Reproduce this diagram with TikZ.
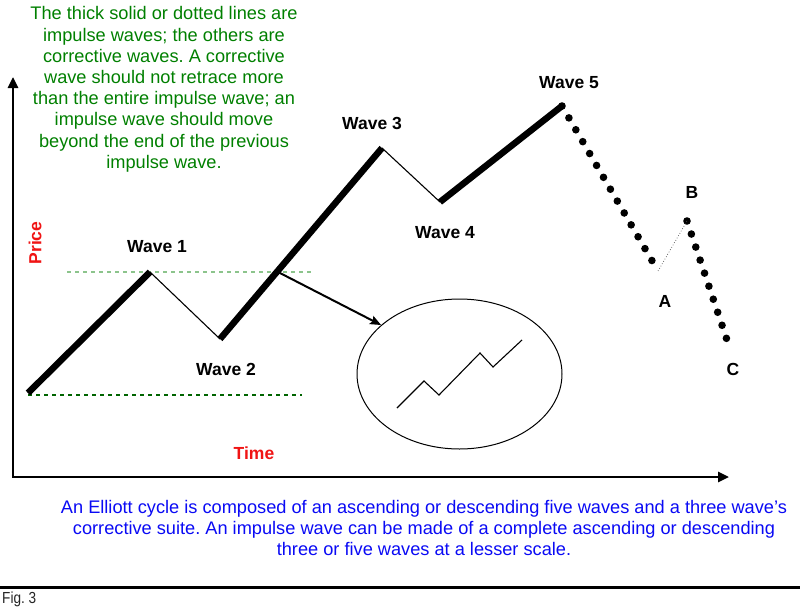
\documentclass[tikz,border=0pt]{standalone}
\usepackage{fontspec}
\setmainfont{Liberation Sans}
\newfontfamily\narrowfont[FakeStretch=0.85]{Liberation Sans}
\usetikzlibrary{arrows.meta,shapes.geometric}
\definecolor{txtgreen}{RGB}{0,128,0}
\definecolor{txtblue}{RGB}{10,10,245}
\definecolor{lightdash}{RGB}{140,196,140}
\definecolor{darkdash}{RGB}{0,100,0}
\definecolor{txtred}{RGB}{240,20,20}
\frenchspacing
\tikzset{
  impulse/.style={line width=6.5pt},
  corrective/.style={line width=1.1pt},
  dotwave/.style={line width=7.6pt, line cap=round, dash pattern=on 0pt off 13.75pt},
  wavelabel/.style={font=\fontsize{17.5}{20}\selectfont\bfseries, inner sep=0pt},
  axislabel/.style={font=\fontsize{17.5}{20}\selectfont\bfseries, text=txtred, inner sep=0pt},
  axis/.style={line width=2.6pt, {Triangle[length=11pt,width=10pt]}-{Triangle[length=11pt,width=10pt]}},
  guide/.style={line width=1.2pt, dash pattern=on 4pt off 4pt},
}
\begin{document}
\begin{tikzpicture}[x=1pt,y=-1pt]
\useasboundingbox (0,0) rectangle (800,608);
\fill[white] (0,0) rectangle (800,608);
% green note
\node[anchor=north, inner sep=0pt, align=center, text=txtgreen,
      font=\fontsize{18.2}{21.2}\selectfont] (note) at (164,6.5)
 {The thick solid or dotted lines are\\impulse waves; the others are\\corrective waves. A corrective\\wave should not retrace more\\than the entire impulse wave; an\\impulse wave should move\\beyond the end of the previous\\impulse wave.};
% axes
\coordinate (ytip) at (13,77);
\coordinate (origin) at (13,477);
\coordinate (xtip) at (729,477);
\draw[axis] (ytip) -- (origin) -- (xtip);
\node[axislabel, rotate=90] (price) at (35,243) {Price};
\node[axislabel] (time) at (254,453) {Time};
% wave points
\coordinate (w0) at (28,393);
\coordinate (w1) at (150,272);
\coordinate (w2) at (220,339);
\coordinate (w3) at (382,148);
\coordinate (w4) at (440,202);
\coordinate (w5) at (562,106);
\coordinate (pa) at (658,271);
\coordinate (pb) at (687,221);
\coordinate (pc) at (727,340);
% guide lines
\coordinate (g1a) at (67,272);
\coordinate (g1b) at (312,272);
\coordinate (g2a) at (28,395);
\coordinate (g2b) at (302,395);
\draw[guide, lightdash] (g1a) -- (g1b);
\draw[guide, darkdash] (g2a) -- (g2b);
% corrective dotted
\draw[dotwave] (w5) -- (pa);
\draw[dotwave] (pb) -- (pc);
\draw[line width=0.7pt, dotted, black!70] (pa) -- (pb);
% waves
\draw[impulse] (w0) -- (w1);
\draw[corrective] (w1) -- (w2);
\draw[impulse] (w2) -- (w3);
\draw[corrective] (w3) -- (w4);
\draw[impulse] (w4) -- (w5);
% labels
\node[wavelabel] (l1) at (157,247) {Wave 1};
\node[wavelabel] (l2) at (226,369) {Wave 2};
\node[wavelabel] (l3) at (372,123) {Wave 3};
\node[wavelabel] (l4) at (445,233) {Wave 4};
\node[wavelabel] (l5) at (569,83) {Wave 5};
\node[wavelabel] (la) at (665,301) {A};
\node[wavelabel] (lb) at (692,192) {B};
\node[wavelabel] (lc) at (733,369) {C};
% zoom ellipse
\node[draw, ellipse, line width=1pt, minimum width=205pt, minimum height=150pt, inner sep=0pt] (ell) at (459.5,374) {};
\coordinate (src) at (278,272);
\draw[line width=2pt, -{Stealth[length=11pt,width=9pt,inset=2pt]}] (src) -- (ell.148);
\coordinate (z0) at (397,408);
\coordinate (z1) at (424,381);
\coordinate (z2) at (439,395);
\coordinate (z3) at (480,353);
\coordinate (z4) at (493,367);
\coordinate (z5) at (522,340);
\draw[line width=1.1pt] (z0) -- (z1) -- (z2) -- (z3) -- (z4) -- (z5);
% blue note
\node[anchor=north, inner sep=0pt, align=center, text=txtblue,
      font=\fontsize{18.2}{21}\selectfont] (cycle) at (424,500)
 {An Elliott cycle is composed of an ascending or descending five waves and a three wave’s\\corrective suite. An impulse wave can be made of a complete ascending or descending\\three or five waves at a lesser scale.};
% separator and caption
\coordinate (sepl) at (0,587);
\coordinate (sepr) at (800,587);
\draw[line width=3pt] (sepl) -- (sepr);
\node[anchor=west, inner sep=0pt, font=\narrowfont\fontsize{16}{18}\selectfont, text=black!85] (fig) at (2,599) {Fig. 3};
\end{tikzpicture}
\end{document}
